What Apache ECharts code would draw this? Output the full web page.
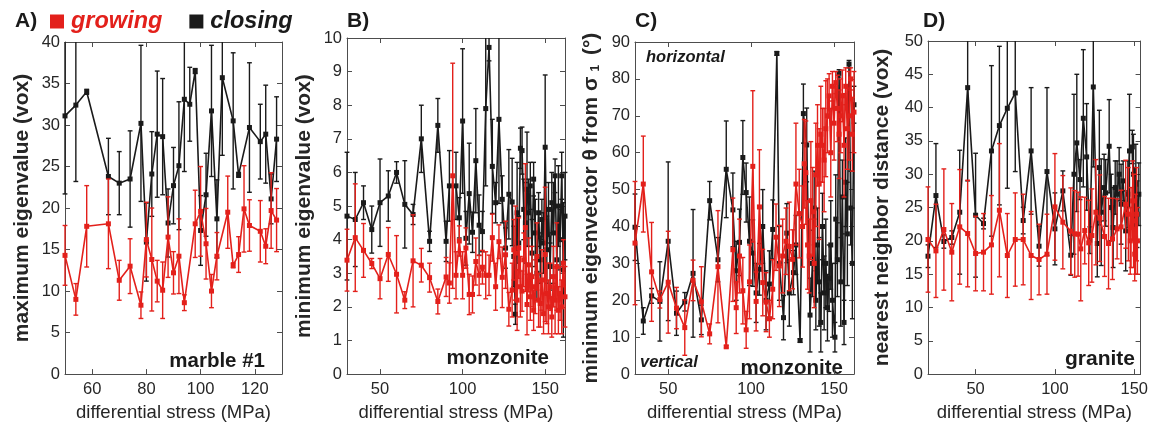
<!DOCTYPE html>
<html><head><meta charset="utf-8">
<script src="https://cdn.jsdelivr.net/npm/echarts@6/dist/echarts.min.js"></script>
<style>html,body{margin:0;padding:0;background:#fff}#c{width:1151px;height:427px}</style>
</head><body><div id="c"></div>
<script>
// ---------- Panel A (marble #1): maximum eigenvalue ----------
const A_close_x = [50,54,58,66,70,74,78,80,82,84,86,88,90,92,94,96,98,100,102,104,106,108,112,114,118,122,124,126,128];
const A_close_y = [31.1,32.4,34.0,23.8,23.0,23.5,30.2,15.9,24.1,28.9,28.6,18.2,22.7,25.1,33.1,32.5,36.5,17.3,21.6,31.7,18.7,35.7,30.5,24.0,29.7,28.0,28.9,21.1,28.3];
const A_close_e = [9.4,9.2,0.3,4.6,3.8,5.8,9.4,4.7,5.1,7.6,7.0,4.1,4.6,7.7,8.7,4.45,0.3,4.2,5.0,7.9,4.7,9.35,8.2,0.3,7.8,4.5,5.9,3.0,5.1];
const A_grow_x = [50,54,58,66,70,74,78,80,82,84,86,88,90,92,94,98,100,102,104,106,110,112,114,116,118,122,124,126,128];
const A_grow_y = [14.3,9.0,17.8,18.1,11.3,13.0,8.3,16.2,13.8,11.2,10.1,16.5,12.2,14.2,8.6,18.1,19.6,15.7,10.0,14.2,19.5,13.1,14.4,19.9,17.9,17.2,15.4,19.7,18.55];
const A_grow_e = [3.6,1.9,4.9,5.4,2.4,3.3,1.6,4.5,6.2,2.5,3.4,4.85,2.55,4.5,0.95,4.05,5.4,4.25,2.0,2.85,4.35,0.3,2.15,5.2,3.1,3.7,2.1,4.55,3.8];

// ---------- Panel B (monzonite): minimum eigenvalue ----------
const B_close_x = [30,35,40,45,50,55,60,65,70,75,80,85,90,92,96,98,100,102,104,106,108,110,112,114,116,118,120,122,124,126,128,130,131,132,133,134,135,136,137,138,139,140,141,142,143,144,145,146,147,148,149,150,151,152,153,154,155,156,157,158,159,160,161,162];
const B_close_y = [4.7,4.6,5.1,4.3,5.1,5.3,6.0,5.05,4.75,7.0,3.95,7.4,3.95,5.6,5.6,4.65,7.53,4.04,5.37,4.22,6.35,4.43,4.24,7.9,9.72,6.18,5.1,7.58,5.2,3.75,5.35,5.12,3.5,1.78,4.8,3.9,6.72,6.65,4.9,4.5,5.5,4.8,5.6,3.6,5.8,4.2,3.0,4.8,3.4,4.6,3.9,6.75,3.7,4.9,3.2,5.1,4.2,5.9,3.4,5.0,4.0,5.9,3.1,4.7];
const B_close_e = [1.9,1.4,0.5,0.7,1.3,0.75,0.32,1.3,0.3,1.0,0.3,0.8,0.6,1.05,1.0,0.6,2.15,0.8,1.5,0.6,1.55,0.9,0.6,2.3,0.4,1.4,0.6,2.5,0.7,0.6,1.33,1.3,0.9,0.3,1.5,0.8,0.6,0.7,0.9,1.2,1.7,1.0,0.7,1.0,0.5,1.0,0.8,0.6,0.7,0.6,0.9,2.15,1.0,0.8,0.7,0.9,1.5,0.5,0.8,1.2,0.9,0.7,2.0,1.3];
const B_grow_x = [30,35,40,45,50,55,60,65,70,75,80,85,90,92,94,96,98,100,102,104,106,108,110,112,114,116,118,120,122,124,126,128,130,131,132,133,134,135,136,137,138,139,140,141,142,143,144,145,146,147,148,149,150,151,152,153,154,155,156,157,158,159,160,161,162];
const B_grow_y = [3.39,4.06,3.68,3.29,2.84,3.56,2.97,2.2,3.37,3.24,2.87,2.16,2.89,2.71,5.9,2.94,3.96,2.94,3.75,2.37,2.37,3.35,2.94,3.18,2.94,2.94,4.06,2.6,3.94,2.88,3.55,1.93,2.5,3.7,3.6,2.2,3.75,2.6,2.47,3.4,4.36,2.07,3.25,2.3,2.9,1.9,2.6,3.5,2.2,2.1,2.8,1.8,3.56,2.4,2.0,2.6,1.7,2.9,2.2,3.2,1.9,2.4,2.0,3.3,2.3];
const B_grow_e = [0.92,1.6,0.8,0.15,0.6,0.8,1.15,0.25,1.37,0.5,0.43,0.37,0.58,0.6,3.35,0.7,0.45,0.7,0.6,0.6,0.55,0.7,0.6,0.5,0.7,0.6,0.7,0.7,0.5,0.9,1.0,0.5,0.8,0.9,1.4,0.9,0.9,0.9,0.6,0.8,1.9,0.9,0.8,0.7,0.9,0.6,0.8,1.0,0.8,0.7,0.9,0.6,2.0,0.9,0.8,0.7,0.6,0.9,1.0,1.3,0.7,0.8,0.8,0.7,0.9];

// ---------- Panel C (monzonite): minimum eigenvector angle ----------
const C_close_x = [30,35,40,45,50,55,60,65,70,75,80,85,89,91,93,95,97,99,101,103,105,107,109,111,113,115.5,117,119.5,121.5,123,125.5,127,129.5,131.5,133.5,135.5,137,138,139,140,141,142,143,144,145,146,147,148,149,150.5,151,152,153,154,155,156,157,158,159,160,161,162];
const C_close_y = [39.8,14.4,21.2,19.7,36,16.5,19.6,27.3,14.7,47.0,31.0,55.5,44.5,28,35.7,58.7,49.2,36,32.8,22,28.4,40,20,24.4,39.2,86.9,30,15.3,38.2,22,27.5,35,9.1,70.6,62.1,16,30,45,20,35,25,14,40,22,30,18,26,35,20,10,42,31,81.5,25,48,14,52,38,84,45,30,73];
const C_close_e = [9,3.6,2.0,10.75,21.5,6,2.5,17.3,4,5.2,6,13.1,10,8,9,10,8,12,9,8,7,10,8,9,8,0.5,10,6,8,9,6,8,0.5,8,10,10,9,10,8,10,12,8,9,10,12,9,9,12,10,4,12,10,1,12,10,6,12,14,1,10,15,5];
const C_grow_x = [30,35,40,45,50,55,60,65,70,75,80,85,89,91,93,95,97,99,101,103,105,107,109,111,113,115,117,119,121,123,125,127,129,131,132,133,134,135,136,137,138,139,140,141,142,143,144,145,146,147,148,149,150,151,152,153,154,155,156,157,158,159,160,161,162];
const C_grow_y = [35.5,51.5,27.7,20.2,24.9,17.9,12.6,25.4,19.6,10.9,29.1,7.4,33.7,18,32,22.6,12,25,56.3,19.7,45.3,24.8,19.5,15,23,37.1,29.3,32,36,34.6,31.1,51.5,43.5,40,57,54.6,35,32,47,44,30,54,62,51.5,65,62,58,66.5,70,75.4,60,78,68,79,72,65,70,75.4,62,78,66.5,70,80,65,71];
const C_grow_e = [16.7,13,13.4,2.3,13.8,5.6,7.5,5.5,9.5,2.7,15.2,0.3,14,7,10,9,5,10,20.5,8,15.5,9,8,5,8,9,11,10,9,12,8,16.5,12,11,12,14,12,10,16,12,12,14,11,15,13,10,14,13,10,6,12,4,10,3,9,12,10,7,14,5,11,12,3,10,11];

// ---------- Panel D (granite): nearest neighbor distance ----------
const D_close_x = [20,25,30,35,40,45,50,55,60,65,70,75,80,85,90,95,100,105,110,112,113.8,115.8,117.9,120,122,124.2,126.7,128,129.2,131,132,134.2,135.5,136.7,138,139.2,140.5,141.7,143,144.6,146,147,148.8,149.5,150.3,151,151.8,152.9];
const D_close_y = [17.7,26.8,19.9,20.5,24.3,43,23.85,22.6,33.5,37.3,39.9,42.2,23.05,33.5,19.2,30.4,21.8,27.5,17.85,30,34.7,29.2,38.4,32.6,20.1,43.1,19.6,31,24.3,28,27.2,34.2,25,22,28,27,30,25.5,29,21.5,27,33.5,34.1,30,26,28.5,24,27];
const D_close_e = [1.7,7.8,1,1,9.3,14,9.3,0.8,12.8,11.9,12,11.8,2,9.5,3,12.6,5.4,3,3,12,10.3,3,10.3,8,2,12,5,8.6,8,5,5,7,5,6,4,5,4,6,3,6,5,8.5,2.5,6,5,6,5,4.7];
const D_grow_x = [20,25,30,35,40,45,50,55,60,65,70,75,80,85,90,95,100,105,110,112.5,114.6,116.3,118.8,121.3,123.3,125.8,128.3,131.3,133.8,136.3,139.2,141.7,144.6,146.3,147.5,148,149,149.6,150.3,150.8,151.5,152];
const D_grow_y = [20.2,18.5,21.7,18.3,22.1,21.1,18.1,18.3,19.4,24.6,17.8,20.2,20.2,17.8,17.2,18,25.1,22.8,21.45,21.05,21,18.8,21.55,19.7,20.8,24.3,23.4,20.66,19.6,20.3,21.8,22.1,25.5,24,20,22,26,23,18,21,24,20];
const D_grow_e = [7.9,7,9.1,7.3,8.6,8,5.6,5.8,7.4,10,6.3,7,6.8,6.6,5.3,6,8,7,6.5,6.5,6.3,7.8,5,6.4,7,7.9,6.5,6,6.8,6.1,4.5,5.5,6.6,7,5,6,6,7,4,6,7,5];

// ---------- axis settings ----------
const X_TICKS = [[60,80,100,120],[50,100,150],[50,100,150],[50,100,150]];
const X_RANGE = [[50,130],[30,162],[30,162],[20,154]];
const Y_RANGE = [[0,40,5],[0,10,1],[0,90,10],[0,50,5]];
const Y_NAMES = ['maximum eigenvalue (vox)','minimum eigenvalue (vox)','minimum eigenvector θ from σ{s|1} (°)','nearest neighbor distance (vox)'];
const X_NAME = 'differential stress (MPa)';

const RED = '#e3201b', BLACK = '#1a1a1a', AX = '#4d4d4d', TXT = '#262626';
const FONT = '"Liberation Sans", Arial, Helvetica, sans-serif';

const grids = [
  {left:65, top:42, width:217, height:338},
  {left:347, top:38, width:218, height:339},
  {left:635, top:42, width:219, height:338},
  {left:928, top:41, width:218, height:338}
];
const nameGaps = [32,32,33,35];

const xAxes = [], yAxes = [], series = [];
for (let i=0;i<4;i++){
  const tick = {show:true, inside:true, length:5, customValues:X_TICKS[i], lineStyle:{color:AX}};
  xAxes.push({type:'value', gridIndex:i, position:'bottom', min:X_RANGE[i][0], max:X_RANGE[i][1],
    axisLine:{show:true, onZero:false, lineStyle:{color:AX, width:1}}, axisTick:tick,
    axisLabel:{customValues:X_TICKS[i], color:TXT, fontSize:16.5, fontFamily:FONT, margin:7},
    splitLine:{show:false}, name:X_NAME, nameLocation:'middle', nameGap:24,
    nameTextStyle:{fontSize:18.5, color:TXT, fontFamily:FONT}});
  xAxes.push({type:'value', gridIndex:i, position:'top', min:X_RANGE[i][0], max:X_RANGE[i][1],
    axisLine:{show:true, onZero:false, lineStyle:{color:AX, width:1}}, axisTick:tick,
    axisLabel:{show:false}, splitLine:{show:false}});
  const ytick = {show:true, inside:true, length:5, lineStyle:{color:AX}};
  yAxes.push({type:'value', gridIndex:i, position:'left', min:Y_RANGE[i][0], max:Y_RANGE[i][1], interval:Y_RANGE[i][2],
    axisLine:{show:true, onZero:false, lineStyle:{color:AX, width:1}}, axisTick:ytick,
    axisLabel:{color:TXT, fontSize:16.5, fontFamily:FONT, margin:5},
    splitLine:{show:false}, name:Y_NAMES[i], nameLocation:'middle', nameRotate:90, nameGap:nameGaps[i],
    nameTextStyle:{fontSize:21, fontWeight:'bold', color:TXT, fontFamily:FONT, lineHeight:22,
      rich:{s:{fontSize:12, fontWeight:'bold', color:TXT, fontFamily:FONT, lineHeight:12, verticalAlign:'bottom', padding:[9,4,0,5]}}}});
  yAxes.push({type:'value', gridIndex:i, position:'right', min:Y_RANGE[i][0], max:Y_RANGE[i][1], interval:Y_RANGE[i][2],
    axisLine:{show:true, onZero:false, lineStyle:{color:AX, width:1}}, axisTick:ytick,
    axisLabel:{show:false}, splitLine:{show:false}});
}

function errRender(color){
  return function(params, api){
    const cs = params.coordSys;
    const x = api.value(0), lo = api.value(1), hi = api.value(2);
    const pHi = api.coord([x, hi]), pLo = api.coord([x, lo]);
    const top = cs.y, bot = cs.y + cs.height;
    const ch = [];
    const y1 = Math.max(pHi[1], top), y2 = Math.min(pLo[1], bot);
    const st = {stroke:color, lineWidth:1.4};
    if (y2 > y1) ch.push({type:'line', shape:{x1:pHi[0], y1:y1, x2:pHi[0], y2:y2}, style:st});
    const w = 2.4;
    if (pHi[1] >= top) ch.push({type:'line', shape:{x1:pHi[0]-w, y1:pHi[1], x2:pHi[0]+w, y2:pHi[1]}, style:st});
    if (pLo[1] <= bot) ch.push({type:'line', shape:{x1:pLo[0]-w, y1:pLo[1], x2:pLo[0]+w, y2:pLo[1]}, style:st});
    return {type:'group', children:ch};
  };
}

const panels = [
  [A_close_x,A_close_y,A_close_e,A_grow_x,A_grow_y,A_grow_e],
  [B_close_x,B_close_y,B_close_e,B_grow_x,B_grow_y,B_grow_e],
  [C_close_x,C_close_y,C_close_e,C_grow_x,C_grow_y,C_grow_e],
  [D_close_x,D_close_y,D_close_e,D_grow_x,D_grow_y,D_grow_e]
];
panels.forEach((p,i)=>{
  const groups = [[p[0],p[1],p[2],BLACK,'closing'],[p[3],p[4],p[5],RED,'growing']];
  groups.forEach((g,k)=>{
    const [xs,ys,es,col,nm] = g;
    series.push({type:'custom', name:nm+'_err', xAxisIndex:2*i, yAxisIndex:2*i, z:2+2*k, silent:true,
      renderItem:errRender(col), encode:{x:0,y:[1,2]},
      data: xs.map((v,j)=>[v, ys[j]-es[j], ys[j]+es[j]])});
    series.push({type:'line', name:nm, xAxisIndex:2*i, yAxisIndex:2*i, z:3+2*k,
      data: xs.map((v,j)=>[v, ys[j]]), symbol:'rect', symbolSize:5, showSymbol:true,
      itemStyle:{color:col}, lineStyle:{color:col, width:1.6}, emphasis:{disabled:true}});
  });
});

function txt(x,y,s,size,opts){
  return {type:'text', x:x, y:y, silent:true, style:Object.assign({text:s, fontSize:size, fontWeight:'bold', fontFamily:FONT, fill:BLACK, verticalAlign:'middle', align:'left'}, opts||{})};
}

const option = {
  animation:false,
  backgroundColor:'#fff',
  grid:grids,
  xAxis:xAxes, yAxis:yAxes, series:series,
  legend:{left:45, top:5, itemWidth:14, itemHeight:14, itemGap:27, icon:'rect', selectedMode:false,
    data:[{name:'growing', textStyle:{color:RED}}, {name:'closing', textStyle:{color:BLACK}}],
    textStyle:{fontSize:23.5, fontStyle:'italic', fontWeight:'bold', fontFamily:FONT, padding:[0,0,0,2]}},
  graphic:[
    txt(15,21,'A)',21), txt(347,21,'B)',21), txt(635,21.5,'C)',21), txt(923,21,'D)',21),
    txt(265,361,'marble #1',20.5,{align:'right'}),
    txt(549,358,'monzonite',20.5,{align:'right'}),
    txt(843,368,'monzonite',20.5,{align:'right'}),
    txt(640,362,'vertical',16.5,{fontStyle:'italic'}),
    txt(646,57,'horizontal',16.5,{fontStyle:'italic'}),
    txt(1135,359,'granite',21,{align:'right'})
  ]
};
echarts.init(document.getElementById('c')).setOption(option);
</script></body></html>
